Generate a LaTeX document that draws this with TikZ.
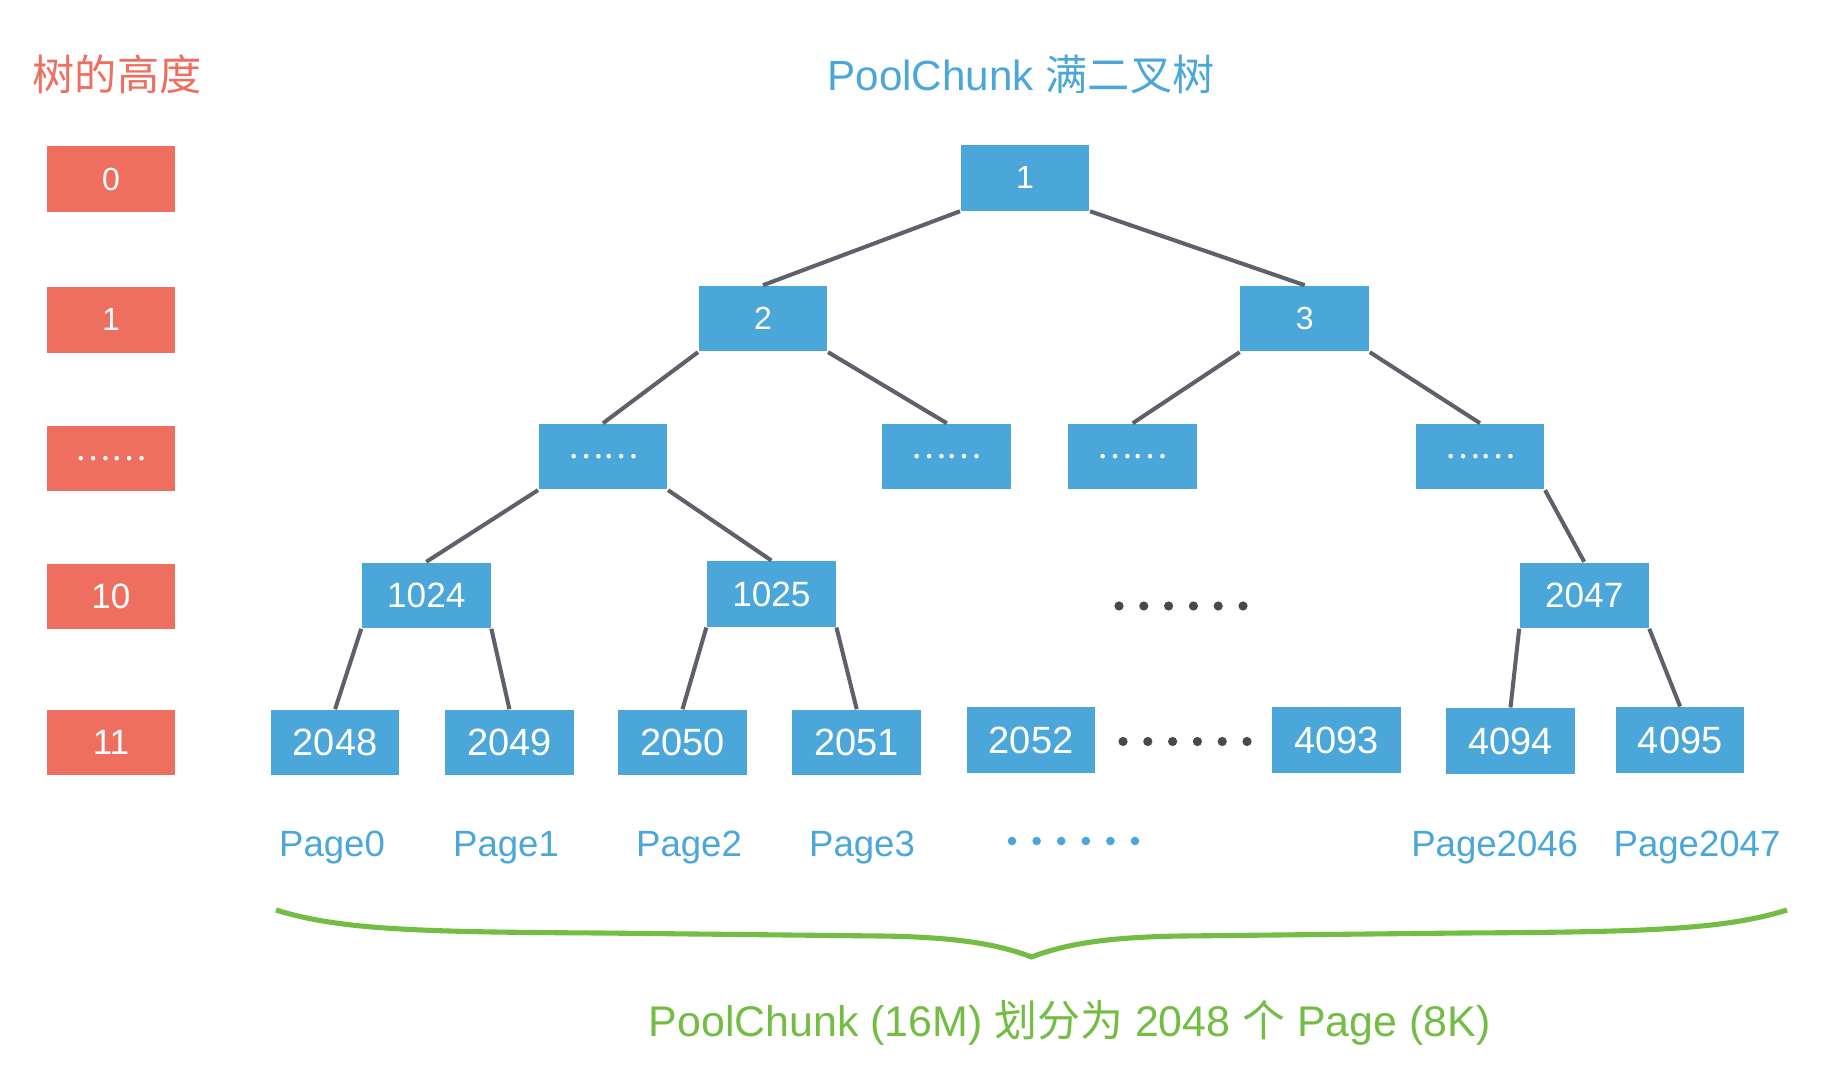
\documentclass[tikz,border=0pt]{standalone}
\usepackage{fontspec}
\setmainfont{Liberation Sans}
\newfontfamily\cjk{Noto Sans CJK SC}
\usetikzlibrary{positioning}
\definecolor{hred}{RGB}{238,110,96}
\definecolor{tblue}{RGB}{75,167,218}
\definecolor{egray}{RGB}{96,95,108}
\definecolor{dgray}{RGB}{72,72,78}
\definecolor{bgreen}{RGB}{115,189,68}

\begin{document}
\begin{tikzpicture}[x=0.01cm,y=-0.01cm,
  hbox/.style={fill=hred,text=white,minimum width=1.286cm,minimum height=0.655cm,inner sep=0pt},
  tbox/.style={fill=tblue,text=white,minimum width=1.286cm,minimum height=0.655cm,inner sep=0pt},
  numsmall/.style={font=\fontsize{9.1}{11}\selectfont},
  nummid/.style={font=\fontsize{10}{12}\selectfont},
  numbig/.style={font=\fontsize{10.8}{13}\selectfont},
  boxdots/.style={font=\cjk\fontsize{9.4}{11}\selectfont},
  edge/.style={draw=egray,line width=1.15pt},
  pagelbl/.style={text=tblue,font=\fontsize{10.4}{12}\selectfont}]
\useasboundingbox (0,0) rectangle (1834,1074);
% titles
\node[text=hred,font=\cjk\fontsize{12}{14}\selectfont] (htitle) at (117,74) {树的高度};
\node[text=tblue,font=\fontsize{12}{14}\selectfont] (ttitle) at (1021,74) {PoolChunk {\cjk 满二叉树}};
% tree heights
\node[hbox,numsmall] (h0) at (111,179) {0};
\node[hbox,numsmall] (h1) at (111,320) {1};
\node[hbox,boxdots] (hd) at (111,458.5) {……};
\node[hbox,nummid] (h10) at (111,596.5) {10};
\node[hbox,nummid] (h11) at (111,742.7) {11};
% tree nodes
\node[tbox,numsmall] (n1) at (1025,177.8) {1};
\node[tbox,numsmall] (n2) at (763,318.7) {2};
\node[tbox,numsmall] (n3) at (1304.7,318.7) {3};
\node[tbox,boxdots] (da) at (603,456.7) {……};
\node[tbox,boxdots] (db) at (946.8,456.7) {……};
\node[tbox,boxdots] (dc) at (1132.7,456.7) {……};
\node[tbox,boxdots] (dd) at (1480,456.7) {……};
\node[tbox,nummid] (n1024) at (426.3,595.3) {1024};
\node[tbox,nummid] (n1025) at (771.4,594) {1025};
\node[tbox,nummid] (n2047) at (1584.2,595.3) {2047};
\node[tbox,numbig] (n2048) at (335.1,742.7) {2048};
\node[tbox,numbig] (n2049) at (509.4,742.7) {2049};
\node[tbox,numbig] (n2050) at (682.5,742.7) {2050};
\node[tbox,numbig] (n2051) at (856.7,742.7) {2051};
\node[tbox,numbig] (n2052) at (1031,740) {2052};
\node[tbox,numbig] (n4093) at (1336.3,740) {4093};
\node[tbox,numbig] (n4094) at (1510.5,741) {4094};
\node[tbox,numbig] (n4095) at (1680.1,740) {4095};
% edges
\draw[edge] (n1.south west) -- (n2.north);
\draw[edge] (n1.south east) -- (n3.north);
\draw[edge] (n2.south west) -- (da.north);
\draw[edge] (n2.south east) -- (db.north);
\draw[edge] (n3.south west) -- (dc.north);
\draw[edge] (n3.south east) -- (dd.north);
\draw[edge] (da.south west) -- (n1024.north);
\draw[edge] (da.south east) -- (n1025.north);
\draw[edge] (dd.south east) -- (n2047.north);
\draw[edge] (n1024.south west) -- (n2048.north);
\draw[edge] (n1024.south east) -- (n2049.north);
\draw[edge] (n1025.south west) -- (n2050.north);
\draw[edge] (n1025.south east) -- (n2051.north);
\draw[edge] (n2047.south west) -- (n4094.north);
\draw[edge] (n2047.south east) -- (n4095.north);
% skipped nodes
\foreach \i in {0,...,5} {
  \fill[dgray] (1119+24.8*\i,606) circle (4.6);
  \fill[dgray] (1123+24.8*\i,741.5) circle (4.6);
  \fill[tblue] (1012+24.6*\i,841) circle (4.3);
}
% pages
\node[pagelbl] (p0) at (332,848) {Page0};
\node[pagelbl] (p1) at (506,848) {Page1};
\node[pagelbl] (p2) at (689,848) {Page2};
\node[pagelbl] (p3) at (862,848) {Page3};
\node[pagelbl] (p2046) at (1494.7,848) {Page2046};
\node[pagelbl] (p2047) at (1697,848) {Page2047};
% brace
\draw[bgreen,line width=1.45pt] (276,910) .. controls (340,930) and (420,932) .. (600,933)
  -- (880,936) .. controls (960,937) and (1000,945) .. (1031.5,957)
  .. controls (1063,945) and (1103,937) .. (1183,936) -- (1463,933)
  .. controls (1643,932) and (1723,930) .. (1787,910);
\node[text=bgreen,font=\fontsize{12.2}{14}\selectfont] (caption) at (1069.6,1023.4) {PoolChunk (16M) {\cjk 划分为} 2048 {\cjk 个} Page (8K)};
\end{tikzpicture}
\end{document}
